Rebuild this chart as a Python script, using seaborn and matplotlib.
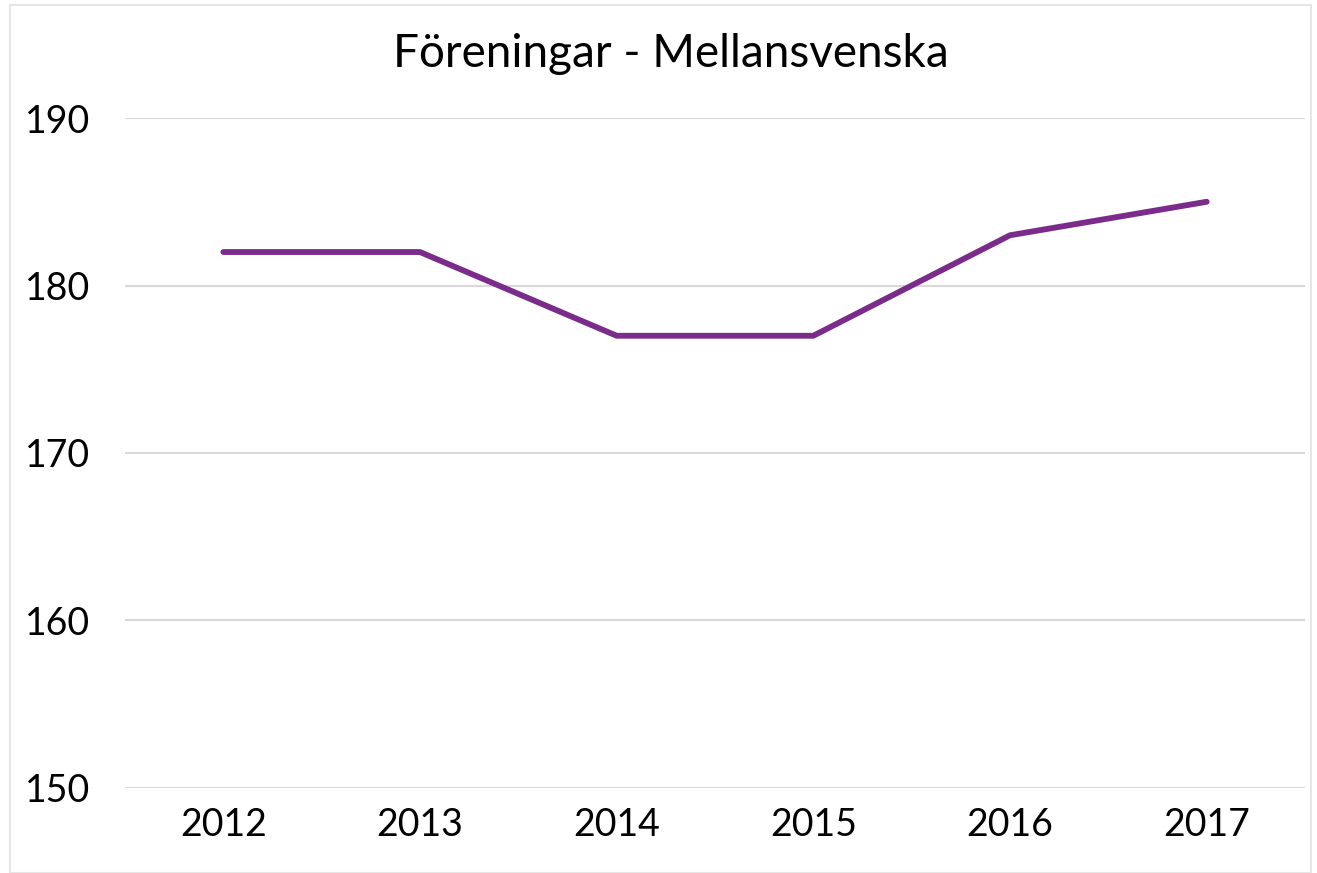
import matplotlib
matplotlib.use("Agg")
import matplotlib.pyplot as plt
import seaborn as sns
import pandas as pd

years = ["2012", "2013", "2014", "2015", "2016", "2017"]
foreningar = [182, 182, 177, 177, 183, 185]

sns.set_theme(style="white")
plt.rcParams['font.family'] = ['Lato', 'DejaVu Sans']

df = pd.DataFrame({"year": years, "value": foreningar})

fig = plt.figure(figsize=(13.17, 8.73), dpi=100)
ax = fig.add_axes([0.0949, 0.0974, 0.896, 0.7674])

sns.lineplot(data=df, x="year", y="value", color="#7B2C8B", linewidth=4.2,
             solid_capstyle="round", ax=ax, sort=False)

ax.set_ylim(150, 190)
ax.set_xlim(-0.5, 5.5)
ax.set_yticks([150, 160, 170, 180, 190])
ax.yaxis.grid(True, color="#d9d9d9", linewidth=1.5)
ax.set_axisbelow(True)
for s in ax.spines.values():
    s.set_visible(False)
ax.set_xlabel("")
ax.set_ylabel("")
ax.tick_params(axis="both", labelsize=27, colors="#000000", length=0)
ax.tick_params(axis="y", pad=25)
ax.tick_params(axis="x", pad=14)

fig.text(0.5095, 0.938, "Föreningar - Mellansvenska", ha="center", va="center",
         fontsize=33, color="#000000")

# light frame around the chart
fig.patches.append(plt.Rectangle((10 / 1317, 0.0), 1301 / 1317, 1 - 5 / 873,
                                 transform=fig.transFigure, fill=False,
                                 edgecolor="#e6e6e6", linewidth=1.5))

fig.savefig("out.png", dpi=100)
